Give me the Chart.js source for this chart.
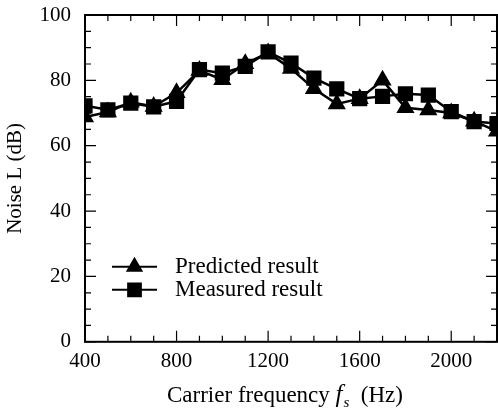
<!DOCTYPE html>
<html>
<head>
<meta charset="utf-8">
<script src="https://cdn.jsdelivr.net/npm/chart.js@4"></script>
<style>
  html, body { margin: 0; padding: 0; background: #fff; }
</style>
</head>
<body>
<canvas id="noise" width="498" height="410"></canvas>
<script>
const frequencies = [400, 500, 600, 700, 800, 900, 1000, 1100, 1200, 1300, 1400, 1500, 1600, 1700, 1800, 1900, 2000, 2100, 2200];
const predicted = [68.8, 70.3, 73.3, 72.0, 76.2, 83.0, 80.2, 85.1, 88.4, 83.6, 77.4, 72.8, 74.4, 80.0, 71.6, 70.9, 70.0, 67.5, 64.4];
const measured = [72.2, 71.0, 73.0, 71.9, 73.6, 83.3, 82.2, 84.3, 88.7, 85.3, 80.7, 77.4, 74.4, 75.1, 75.9, 75.5, 70.4, 67.4, 66.8];
const xLabels = [400, 800, 1200, 1600, 2000];
const yLabels = [0, 20, 40, 60, 80, 100];

const serif = '"Liberation Serif", "DejaVu Serif", serif';

// ticks point inward on all four sides, like the printed figure
const frameTicks = {
  id: 'frameTicks',
  afterDatasetsDraw(chart) {
    const { ctx, chartArea: a } = chart;
    const xs = chart.scales.x, ys = chart.scales.y;
    ctx.save();
    ctx.strokeStyle = '#000';
    ctx.lineWidth = 2;
    ctx.strokeRect(a.left, a.top, a.right - a.left, a.bottom - a.top);
    ctx.lineWidth = 1.2;
    xs.ticks.forEach(t => {
      const px = xs.getPixelForValue(t.value);
      const len = xLabels.includes(t.value) ? 11 : 6;
      ctx.beginPath();
      ctx.moveTo(px, a.bottom); ctx.lineTo(px, a.bottom - len);
      ctx.moveTo(px, a.top); ctx.lineTo(px, a.top + len);
      ctx.stroke();
    });
    ys.ticks.forEach(t => {
      const py = ys.getPixelForValue(t.value);
      const len = yLabels.includes(t.value) ? 11 : 6;
      ctx.beginPath();
      ctx.moveTo(a.left, py); ctx.lineTo(a.left + len, py);
      ctx.moveTo(a.right, py); ctx.lineTo(a.right - len, py);
      ctx.stroke();
    });
    ctx.restore();
  }
};

// legend sits inside the plot, lower left
const innerLegend = {
  id: 'innerLegend',
  afterDraw(chart) {
    const { ctx, chartArea: a } = chart;
    ctx.save();
    ctx.textBaseline = 'middle';
    ctx.fillStyle = '#000';
    chart.data.datasets.forEach((ds, i) => {
      const y = a.bottom - 75 + i * 23;
      const x0 = a.left + 27, x1 = a.left + 72;
      ctx.strokeStyle = '#000';
      ctx.lineWidth = 2;
      ctx.beginPath(); ctx.moveTo(x0, y); ctx.lineTo(x1, y); ctx.stroke();
      Chart.helpers.drawPoint(ctx, {
        pointStyle: ds.pointStyle, radius: ds.pointRadius, borderWidth: 1
      }, (x0 + x1) / 2, y);
      ctx.fill();
      ctx.font = '23px ' + serif;
      ctx.fillText(ds.label, a.left + 90, y);
    });
    // x axis title with italic f and subscript s
    const ty = a.bottom + 60;
    let x = 167;
    ctx.textBaseline = 'alphabetic';
    const parts = [
      ['Carrier frequency ', '23px ' + serif, 0],
      ['f', 'italic 25px ' + serif, 0],
      ['s', 'italic 15px ' + serif, 5],
      ['  (Hz)', '23px ' + serif, 0]
    ];
    parts.forEach(([s, f, dy]) => {
      ctx.font = f;
      ctx.fillText(s, x, ty + dy);
      x += ctx.measureText(s).width + (s === 'f' ? 1 : 0);
    });
    ctx.restore();
  }
};

new Chart(document.getElementById('noise'), {
  type: 'line',
  data: {
    datasets: [
      {
        label: 'Predicted result',
        data: frequencies.map((f, i) => ({ x: f, y: predicted[i] })),
        borderColor: '#000',
        backgroundColor: '#000',
        borderWidth: 2.5,
        pointStyle: 'triangle',
        pointRadius: 8,
        order: 1
      },
      {
        label: 'Measured result',
        data: frequencies.map((f, i) => ({ x: f, y: measured[i] })),
        borderColor: '#000',
        backgroundColor: '#000',
        borderWidth: 2.5,
        pointStyle: 'rect',
        pointRadius: 9,
        order: 0
      }
    ]
  },
  options: {
    responsive: false,
    animation: false,
    layout: { autoPadding: false, padding: { top: 15, right: 0, bottom: 29, left: 0 } },
    plugins: {
      legend: { display: false },
      tooltip: { enabled: false }
    },
    scales: {
      x: {
        type: 'linear',
        min: 400,
        max: 2200,
        grid: { display: false, drawTicks: false },
        border: { display: false },
        afterFit: s => { s.paddingRight = 1; },
        ticks: {
          stepSize: 100,
          autoSkip: false,
          maxRotation: 0,
          padding: 7,
          color: '#000',
          font: { family: serif, size: 21 },
          callback: v => xLabels.includes(v) ? String(v) : ''
        }
      },
      y: {
        min: 0,
        max: 100,
        grid: { display: false, drawTicks: false },
        border: { display: false },
        afterFit: s => { s.width = 85; s.paddingTop = 0; s.paddingBottom = 0; },
        title: {
          display: true,
          text: 'Noise L (dB)',
          color: '#000',
          font: { family: serif, size: 21 },
          padding: { top: 3, bottom: 4 }
        },
        ticks: {
          stepSize: 5,
          autoSkip: false,
          padding: 14,
          color: '#000',
          font: { family: serif, size: 21 },
          callback: v => yLabels.includes(v) ? String(v) : ''
        }
      }
    }
  },
  plugins: [frameTicks, innerLegend]
});
</script>
</body>
</html>
